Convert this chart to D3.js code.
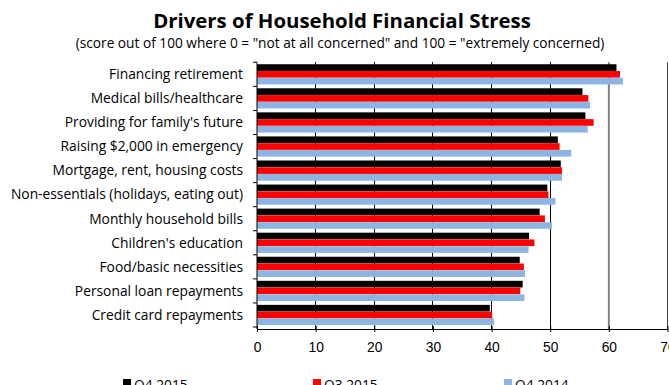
<!DOCTYPE html>
<html>
<head>
<meta charset="utf-8">
<script src="https://cdn.jsdelivr.net/npm/d3@7"></script>
<style>
  html, body { margin: 0; padding: 0; background: #fff; }
  svg { display: block; font-family: "Open Sans", "Noto Sans", sans-serif; }
</style>
</head>
<body>
<svg id="chart" width="669" height="385"></svg>
<script>
// Stress drivers, top to bottom
const categories = [
  "Financing retirement",
  "Medical bills/healthcare",
  "Providing for family's future",
  "Raising $2,000 in emergency",
  "Mortgage, rent, housing costs",
  "Non-essentials (holidays, eating out)",
  "Monthly household bills",
  "Children's education",
  "Food/basic necessities",
  "Personal loan repayments",
  "Credit card repayments"
];

const seriesNames = ["Q4 2015", "Q3 2015", "Q4 2014"];

const q4_2015 = [61.3, 55.5, 56.0, 51.3, 51.8, 49.5, 48.2, 46.4, 44.8, 45.3, 39.7];
const q3_2015 = [61.9, 56.5, 57.4, 51.6, 52.0, 49.7, 49.1, 47.3, 45.5, 44.9, 40.1];
const q4_2014 = [62.4, 56.8, 56.4, 53.6, 52.0, 50.9, 50.3, 46.3, 45.7, 45.6, 40.4];

const xTicks = [0, 10, 20, 30, 40, 50, 60, 70];

const seriesValues = [q4_2015, q3_2015, q4_2014];
const colors = ["#000000", "#ff0000", "#8db4e2"];

const svg = d3.select("#chart");
const labelSize = "13.8px";

// Titles
svg.append("text")
  .attr("x", 342).attr("y", 28)
  .attr("text-anchor", "middle")
  .style("font-size", "20.4px").style("font-weight", "bold")
  .text("Drivers of Household Financial Stress");

svg.append("text")
  .attr("x", 340).attr("y", 47.5)
  .attr("text-anchor", "middle")
  .style("font-size", "13.7px")
  .text('(score out of 100 where 0 = "not at all concerned" and 100 = "extremely concerned)');

// Scales
const x = d3.scaleLinear().domain([0, 70]).range([257, 667.5]);
const y = d3.scaleBand().domain(categories).range([62.3, 327]).paddingInner(0.15).paddingOuter(0.075);
const ySub = d3.scaleBand().domain(seriesNames).range([0, y.bandwidth()]).padding(0.02);
const axisY = 329;

// Gridlines
const grid = svg.append("g");
xTicks.filter(t => t > 0).forEach(t => {
  grid.append("line")
    .attr("x1", x(t)).attr("x2", x(t))
    .attr("y1", 62.3).attr("y2", axisY)
    .attr("stroke", t === 60 ? "#808080" : (t === 70 ? "#404040" : "#000"))
    .attr("stroke-width", t === 60 ? 2 : 1)
    .attr("shape-rendering", t >= 60 ? "auto" : "crispEdges");
});

// Bars
const groups = svg.append("g").selectAll("g")
  .data(categories)
  .join("g")
  .attr("transform", d => `translate(0,${y(d)})`);

groups.selectAll("rect")
  .data((d, i) => seriesNames.map((s, j) => ({ s, v: seriesValues[j][i], c: colors[j] })))
  .join("rect")
  .attr("x", x(0))
  .attr("y", d => ySub(d.s))
  .attr("width", d => x(d.v) - x(0))
  .attr("height", ySub.bandwidth())
  .attr("fill", d => d.c);

// X axis
const xAxis = d3.axisBottom(x).tickValues(xTicks).tickSizeInner(3).tickSizeOuter(0);
const gx = svg.append("g").attr("transform", `translate(0,${axisY})`).call(xAxis);
gx.select(".domain").attr("stroke", "#000");
gx.selectAll(".tick line").attr("y1", -3).attr("y2", 3).attr("stroke", "#000");
gx.selectAll(".tick text").style("font-size", labelSize).attr("fill", "#000").attr("dy", "0.35em").attr("y", 18);

// Y axis: ticks at category boundaries
svg.append("line")
  .attr("x1", x(0)).attr("x2", x(0))
  .attr("y1", 62.3).attr("y2", axisY)
  .attr("stroke", "#000");

const step = y.step();
const y0 = y.range()[0];
d3.range(categories.length + 1).forEach(k => {
  svg.append("line")
    .attr("x1", x(0) - 4).attr("x2", x(0))
    .attr("y1", y0 + k * step).attr("y2", y0 + k * step)
    .attr("stroke", "#000");
});

svg.append("g").selectAll("text")
  .data(categories)
  .join("text")
  .attr("x", 243)
  .attr("y", d => y(d) + y.bandwidth() / 2)
  .attr("dy", "0.35em")
  .attr("text-anchor", "end")
  .style("font-size", labelSize)
  .text(d => d);

// Legend
const legendX = [123, 313, 504];
const legend = svg.append("g");
seriesNames.forEach((s, i) => {
  legend.append("rect")
    .attr("x", legendX[i]).attr("y", 379)
    .attr("width", 8).attr("height", 8)
    .attr("fill", colors[i]);
  legend.append("text")
    .attr("x", legendX[i] + 11).attr("y", 390)
    .style("font-size", labelSize)
    .text(s);
});
</script>
</body>
</html>
